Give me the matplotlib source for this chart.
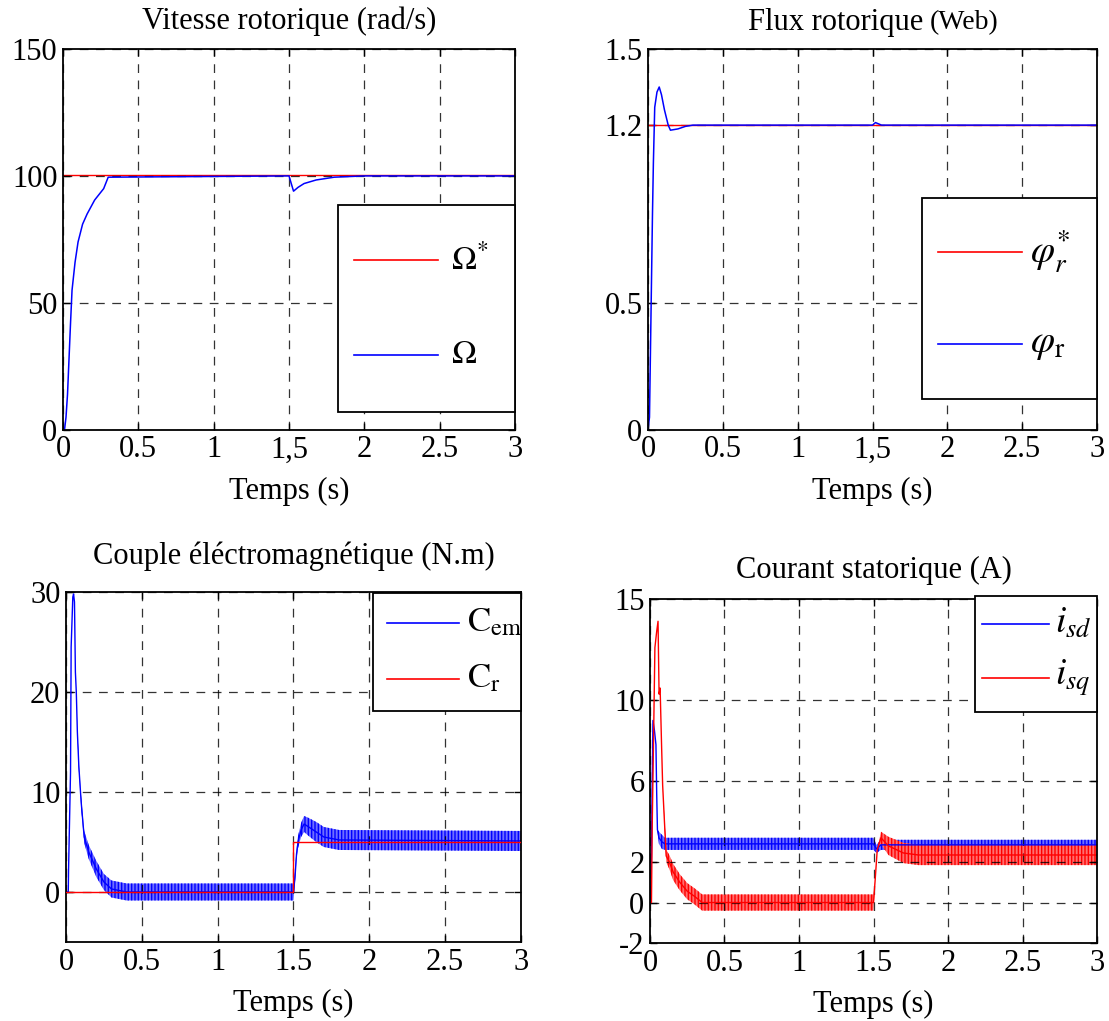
import numpy as np
import matplotlib
matplotlib.use("Agg")
import matplotlib.pyplot as plt
from matplotlib.patches import Rectangle

plt.rcParams['font.family'] = ['Liberation Serif', 'DejaVu Serif']
plt.rcParams['mathtext.fontset'] = 'stix'
plt.rcParams['font.size'] = 22
plt.rcParams['axes.unicode_minus'] = False
plt.rcParams['hatch.linewidth'] = 1.0

# ---- données ----
# vitesse rotorique
vit_ref_t = [0, 3]
vit_ref = [100, 100]
vit_t = [0, 0.01, 0.02, 0.03, 0.04, 0.05, 0.06, 0.08, 0.10, 0.13, 0.16, 0.21, 0.27, 0.30,
         1.50, 1.515, 1.53, 1.56, 1.60, 1.68, 1.80, 2.0, 3.0]
vit = [0, 0, 5, 14, 28, 42, 55, 66, 74, 81, 85, 90.5, 95, 99.5,
       100, 97, 94, 95.5, 97, 98.4, 99.5, 100, 100]

# flux rotorique
flux_ref_t = [0, 3]
flux_ref = [1.2, 1.2]
flux_t = [0, 0.01, 0.02, 0.03, 0.036, 0.045, 0.06, 0.075, 0.09, 0.11, 0.135, 0.15,
          0.20, 0.25, 0.30, 1.50, 1.52, 1.56, 3.0]
flux = [0, 0.05, 0.45, 0.85, 1.05, 1.27, 1.33, 1.35, 1.32, 1.26, 1.20, 1.18,
        1.185, 1.195, 1.2, 1.2, 1.21, 1.2, 1.2]

# couple électromagnétique
cr_t = [0, 1.5, 1.5, 3]
cr = [0, 0, 5, 5]
cem_t = [0, 0.015, 0.017, 0.03, 0.034, 0.045, 0.05, 0.056, 0.062, 0.068, 0.075, 0.085,
         0.10, 0.12, 0.15, 0.20, 0.25, 0.30, 0.40, 1.50, 1.51, 1.52, 1.53, 1.55, 1.57,
         1.60, 1.65, 1.70, 1.80, 3.0]
cem = [0, 0, 2.3, 12, 24.5, 29.5, 29.8, 29, 22, 20, 16, 12.5,
       9, 5.5, 4.0, 2.3, 1.0, 0.3, 0, 0, 1.5, 3.8, 5, 6.2, 6.8,
       6.5, 6.0, 5.5, 5.2, 5.1]
cem_rip = [0, 0, 0, 0, 0, 0, 0, 0, 0, 0, 0.3, 0.4,
           0.5, 0.6, 0.7, 0.8, 0.8, 0.85, 0.85, 0.85, 0.5, 0.5, 0.6, 0.7, 0.8,
           0.9, 1.0, 1.0, 1.0, 1.0]

# courants statoriques
isd_t = [0, 0.005, 0.01, 0.015, 0.02, 0.03, 0.04, 0.045, 0.05, 0.06, 0.08, 0.10,
         0.15, 1.50, 1.52, 1.55, 3.0]
isd = [0, 0.6, 2.3, 6, 9, 8.5, 7.8, 5.4, 3.6, 3.2, 3.0, 2.9,
       2.9, 2.9, 2.65, 2.85, 2.85]
isd_rip = [0, 0, 0, 0, 0, 0, 0, 0, 0, 0.3, 0.35, 0.3,
           0.3, 0.3, 0.2, 0.25, 0.25]
isq_t = [0, 0.01, 0.015, 0.026, 0.033, 0.045, 0.054, 0.061, 0.068, 0.078, 0.085, 0.097,
         0.109, 0.13, 0.156, 0.20, 0.25, 0.30, 0.35, 1.50, 1.51, 1.525, 1.55, 1.60,
         1.70, 1.80, 3.0]
isq = [0, 0, 3.8, 9.1, 12.6, 13.4, 13.9, 10.3, 10.6, 7.7, 5.8, 4.0,
       2.3, 2.0, 1.5, 1.0, 0.56, 0.3, 0, 0, 1.0, 2.6, 3.2, 2.8,
       2.45, 2.35, 2.35]
isq_rip = [0, 0, 0, 0, 0, 0, 0, 0, 0, 0, 0, 0.2,
           0.3, 0.35, 0.4, 0.4, 0.4, 0.4, 0.4, 0.4, 0, 0, 0.3, 0.45,
           0.5, 0.5, 0.5]

ticks_t = [0, 0.5, 1, 1.5, 2, 2.5, 3]
labels_haut = ['0', '0.5', '1', '1,5', '2', '2.5', '3']
labels_bas = ['0', '0.5', '1', '1.5', '2', '2.5', '3']


def style_axe(ax, xlabels):
    ax.set_xlim(0, 3)
    ax.set_xticks(ticks_t)
    ax.set_xticklabels(xlabels)
    ax.grid(True, color='black', linestyle=(0, (7, 6)), linewidth=0.9, alpha=0.8)
    ax.tick_params(direction='in', top=True, right=True, length=5, width=1, pad=4)
    for s in ax.spines.values():
        s.set_linewidth(1.3)
    ax.set_xlabel('Temps (s)', labelpad=9)


def legende(ax, box, entrees, fs):
    x0, y0, x1, y1 = box
    ax.add_patch(Rectangle((x0, y0), x1 - x0, y1 - y0, transform=ax.transAxes,
                           facecolor='white', edgecolor='black', lw=1.3,
                           zorder=6, clip_on=False))
    for coul, y, lab, xa, xb, xt in entrees:
        ax.plot([xa, xb], [y, y], color=coul, lw=1.2, transform=ax.transAxes,
                zorder=7, clip_on=False)
        ax.text(xt, y, lab, transform=ax.transAxes, va='center', ha='left',
                fontsize=fs, zorder=7)


def bande(ax, t, v, rip, coul, clair):
    v = np.array(v)
    rip = np.array(rip)
    ax.fill_between(t, v - rip, v + rip, facecolor=clair, edgecolor=coul,
                    hatch='|||||', lw=0)
    ax.plot(t, v, color=coul, lw=1.0)


fig = plt.figure(figsize=(11.09, 10.21), dpi=100)
ax1 = fig.add_axes([0.0568, 0.5789, 0.4076, 0.3732])
ax2 = fig.add_axes([0.5843, 0.5789, 0.4049, 0.3732])
ax3 = fig.add_axes([0.0595, 0.0774, 0.4103, 0.3428])
ax4 = fig.add_axes([0.5861, 0.0764, 0.4031, 0.3369])

# ---- vitesse ----
ax1.plot(vit_t, vit, color='blue', lw=1.1)
ax1.plot(vit_ref_t, [v + 0.4 for v in vit_ref], color='red', lw=1.0, zorder=1.5)
style_axe(ax1, labels_haut)
ax1.set_ylim(0, 150)
ax1.set_yticks([0, 50, 100, 150])
ax1.set_title('Vitesse rotorique (rad/s)', fontsize=22, pad=14)
legende(ax1, (0.608, 0.047, 1.0, 0.591),
        [('red', 0.446, r'$\Omega^{*}$', 0.644, 0.83, 0.858),
         ('blue', 0.197, r'$\Omega$', 0.644, 0.83, 0.858)], 24)

# ---- flux ----
ax2.plot(flux_ref_t, flux_ref, color='red', lw=1.0)
ax2.plot(flux_t, flux, color='blue', lw=1.1)
style_axe(ax2, labels_haut)
ax2.set_ylim(0, 1.5)
ax2.set_yticks([0, 0.5, 1.2, 1.5])
ax2.set_yticklabels(['0', '0.5', '1.2', '1.5'])
ax2.text(0.612, 1.032, 'Flux rotorique', transform=ax2.transAxes, ha='right',
         va='bottom', fontsize=22)
ax2.text(0.628, 1.037, '(Web)', transform=ax2.transAxes, ha='left',
         va='bottom', fontsize=20)
legende(ax2, (0.610, 0.081, 1.0, 0.609),
        [('red', 0.467, r'$\varphi_{r}^{*}$', 0.646, 0.833, 0.851),
         ('blue', 0.226, r'$\varphi_{\mathrm{r}}$', 0.646, 0.833, 0.851)], 28)

# ---- couple ----
bande(ax3, cem_t, cem, cem_rip, 'blue', '#6f6fff')
ax3.plot(cr_t, cr, color='red', lw=1.0, zorder=3)
style_axe(ax3, labels_bas)
ax3.set_ylim(-5, 30)
ax3.set_yticks([0, 10, 20, 30])
ax3.set_title('Couple éléctromagnétique (N.m)', fontsize=22, pad=20)
legende(ax3, (0.675, 0.66, 1.0, 0.997),
        [('blue', 0.911, r'$\mathrm{C}_{\mathrm{em}}$', 0.705, 0.864, 0.881),
         ('red', 0.751, r'$\mathrm{C}_{\mathrm{r}}$', 0.705, 0.864, 0.881)], 25)

# ---- courants ----
bande(ax4, isd_t, isd, isd_rip, 'blue', '#6f6fff')
bande(ax4, isq_t, isq, isq_rip, 'red', '#ff6f6f')
style_axe(ax4, labels_bas)
ax4.set_ylim(-2, 15)
ax4.set_yticks([-2, 0, 2, 6, 10, 15])
ax4.set_title('Courant statorique (A)', fontsize=22, pad=15)
legende(ax4, (0.727, 0.672, 1.0, 1.008),
        [('blue', 0.927, r'$i_{sd}$', 0.742, 0.892, 0.906),
         ('red', 0.770, r'$i_{sq}$', 0.742, 0.892, 0.906)], 27)

fig.savefig('out.png', dpi=100)
